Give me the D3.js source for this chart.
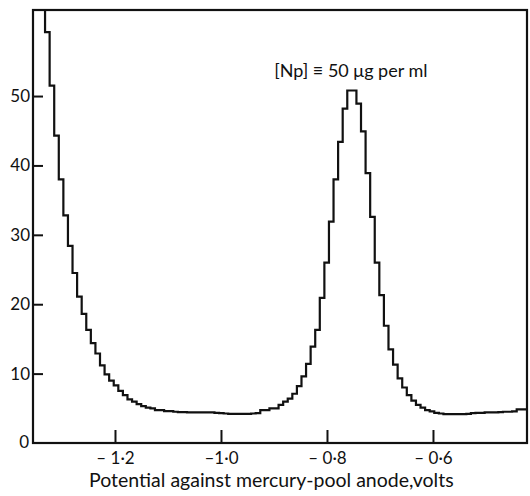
<!DOCTYPE html>
<html>
<head>
<meta charset="utf-8">
<script src="https://cdn.jsdelivr.net/npm/d3@7"></script>
<style>
  body { margin: 0; background: #fff; }
  text { font-family: Lato, "Open Sans", sans-serif; fill: #111; }
</style>
</head>
<body>
<div id="chart-area"></div>
<script>
// step readings: left edge of first step and width of each step, in volts
const potentialStart = -1.3406
const stepWidth = 0.00864
// current (arbitrary units), one value per step
const current = [
  70, 59.2, 51.5, 44.3, 38.0, 32.8, 28.4, 24.5, 21.1, 18.6,
  16.3, 14.4, 12.9, 11.2, 9.9, 9.0, 8.3, 7.5, 6.9, 6.3,
  5.95, 5.6, 5.3, 5.1, 5.0, 4.75, 4.75, 4.6, 4.6, 4.5,
  4.45, 4.45, 4.4, 4.4, 4.4, 4.4, 4.4, 4.4, 4.35, 4.3,
  4.25, 4.2, 4.2, 4.2, 4.2, 4.2, 4.25, 4.3, 4.75, 4.75,
  5.0, 5.0, 5.5, 5.95, 6.4, 7.1, 8.2, 9.6, 11.4, 13.9,
  16.3, 20.9, 26.0, 31.9, 38.0, 43.4, 48.2, 50.8, 50.8, 48.9,
  44.9, 38.9, 32.6, 26.0, 21.3, 16.9, 13.5, 11.3, 9.3, 8.0,
  6.9, 6.1, 5.5, 5.1, 4.75, 4.55, 4.35, 4.25, 4.15, 4.15,
  4.15, 4.15, 4.15, 4.2, 4.3, 4.35, 4.35, 4.4, 4.4, 4.4,
  4.45, 4.5, 4.5, 4.55, 4.85, 4.85, 4.85
]
const xTicks = [-1.2, -1.0, -0.8, -0.6]
const xTickLabels = ["\u2013 1\u00b72", "\u20131\u00b70", "\u2013 0\u00b78", "\u2013 0\u00b76"]
const yTicks = [0, 10, 20, 30, 40, 50]
const xDomain = [-1.3547, -0.4226]
const yDomain = [0, 62.4]

const MARGIN = { LEFT: 33, RIGHT: 3, TOP: 10, BOTTOM: 53 }
const WIDTH = 530 - MARGIN.LEFT - MARGIN.RIGHT
const HEIGHT = 496 - MARGIN.TOP - MARGIN.BOTTOM

const svg = d3.select("#chart-area")
  .append("svg")
    .attr("width", 530)
    .attr("height", 496)

const g = svg.append("g")
    .attr("transform", `translate(${MARGIN.LEFT}, ${MARGIN.TOP})`)

const x = d3.scaleLinear().domain(xDomain).range([0, WIDTH])
const y = d3.scaleLinear().domain(yDomain).range([HEIGHT, 0])

// clip so the off-scale start stays inside the frame
g.append("clipPath").attr("id", "plot-clip")
  .append("rect")
    .attr("width", WIDTH)
    .attr("height", HEIGHT)

// step trace
const points = current.map((c, i) => [potentialStart + i * stepWidth, c])
points.push([potentialStart + current.length * stepWidth, current[current.length - 1]])

const line = d3.line()
  .x(d => x(d[0]))
  .y(d => y(d[1]))
  .curve(d3.curveStepAfter)

g.append("path")
  .datum(points)
  .attr("clip-path", "url(#plot-clip)")
  .attr("fill", "none")
  .attr("stroke", "#111")
  .attr("stroke-width", 2.2)
  .attr("d", line)

// x axis, ticks pointing inward
const xAxis = g.append("g")
  .attr("transform", `translate(0, ${HEIGHT})`)
  .call(d3.axisBottom(x)
    .tickValues(xTicks)
    .tickSizeInner(-13)
    .tickSizeOuter(0)
    .tickPadding(9)
    .tickFormat((d, i) => xTickLabels[i]))
xAxis.select(".domain").remove()
xAxis.selectAll("line").attr("stroke", "#111").attr("stroke-width", 2)
xAxis.selectAll("text")
  .attr("font-size", "17px")
  .attr("font-family", "Lato, sans-serif")
  .attr("fill", "#111")

// y axis, ticks pointing inward
const yAxis = g.append("g")
  .call(d3.axisLeft(y)
    .tickValues(yTicks.filter(d => d > 0))
    .tickSizeInner(-10)
    .tickSizeOuter(0)
    .tickPadding(4))
yAxis.select(".domain").remove()
yAxis.selectAll("line").attr("stroke", "#111").attr("stroke-width", 2)
yAxis.selectAll("text")
  .attr("font-size", "17px")
  .attr("font-family", "Lato, sans-serif")
  .attr("fill", "#111")
  .attr("x", -3)

// the zero label sits at the corner, no tick
g.append("text")
  .attr("x", -4)
  .attr("y", y(0))
  .attr("dy", "0.32em")
  .attr("text-anchor", "end")
  .attr("font-size", "17px")
  .text(yTicks[0])

// frame
g.append("rect")
  .attr("width", WIDTH)
  .attr("height", HEIGHT)
  .attr("fill", "none")
  .attr("stroke", "#111")
  .attr("stroke-width", 2.2)

// annotation
g.append("text")
  .attr("x", x(-0.755))
  .attr("y", 67)
  .attr("text-anchor", "middle")
  .attr("font-size", "18px")
  .text("[Np] \u2261 50 \u03bcg per ml")

// x label
g.append("text")
  .attr("x", x(-0.905))
  .attr("y", HEIGHT + 44)
  .attr("text-anchor", "middle")
  .attr("font-size", "19.5px")
  .text("Potential against mercury-pool anode,volts")
</script>
</body>
</html>
